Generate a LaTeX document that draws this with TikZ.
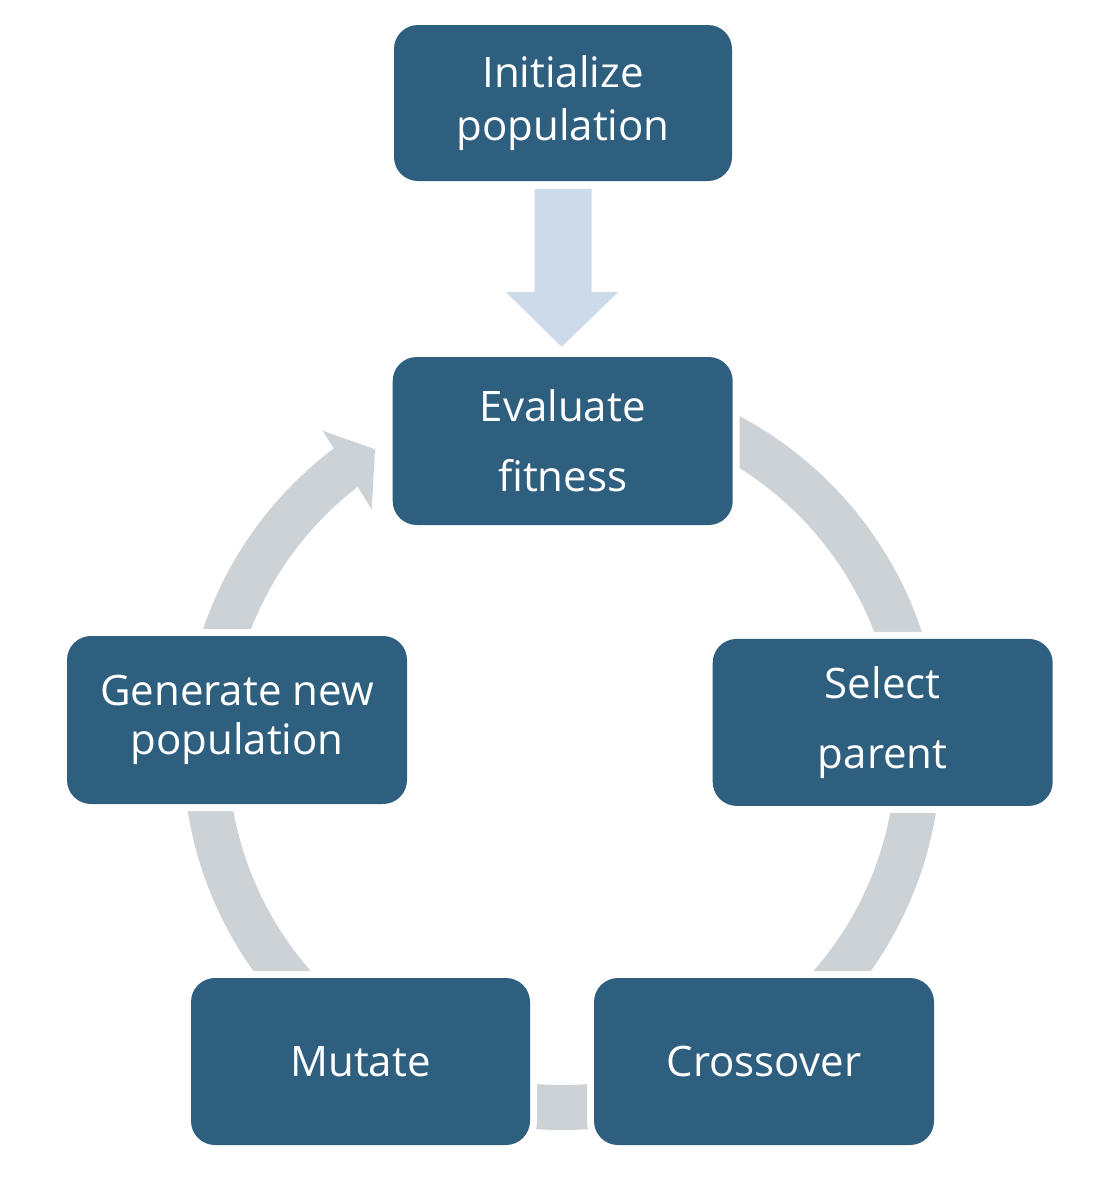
\documentclass[tikz,border=0pt]{standalone}
\usepackage{fontspec}
\setmainfont{Open Sans}
\usetikzlibrary{calc}
\definecolor{boxblue}{HTML}{2F5F7F}
\definecolor{ringgray}{HTML}{CDD2D7}
\definecolor{arrowblue}{HTML}{CDDAEA}
\begin{document}
\begin{tikzpicture}[x=1pt,y=1pt,
  stepbox/.style={rectangle, rounded corners=24pt, fill=boxblue, text=white,
    minimum width=340pt, minimum height=167pt, inner sep=0pt, align=center,
    preaction={draw=white, line width=14pt}},
  ring/.style={draw=ringgray, line width=45pt},
  headfill/.style={fill=ringgray},
  downarrow/.style={fill=arrowblue}]
\useasboundingbox (0,0) rectangle (1106,-1186);
% cycle ring
\coordinate (c) at (562,-751);
\draw[ring] ($(c)+(126.5:356.5)$) arc[start angle=126.5, end angle=440, radius=356.5pt];
\coordinate (hb1) at (322.7,-430.7);
\coordinate (htip) at (375,-449.3);
\coordinate (hb2) at (371.7,-509.3);
\fill[headfill] (hb1) -- (htip) -- (hb2) -- cycle;
% boxes
\node[stepbox, minimum width=338pt, minimum height=156pt, font=\fontsize{42}{53}\selectfont] (init) at (563,-103) {Initialize\\population};
\node[stepbox, minimum height=168pt, font=\fontsize{42}{70}\selectfont] (eval) at (562.7,-441) {Evaluate\\fitness};
\node[stepbox, font=\fontsize{42}{70}\selectfont] (sel) at (882.7,-722.4) {Select\\parent};
\node[stepbox, font=\fontsize{42}{49}\selectfont] (cross) at (764,-1061.5) {Crossover};
\node[stepbox, minimum width=339pt, font=\fontsize{42}{49}\selectfont] (mut) at (360.5,-1061.5) {Mutate};
\node[stepbox, minimum height=168pt, font=\fontsize{42}{49}\selectfont] (gen) at (237,-720) {Generate new\\population};
% block arrow from init to eval
\fill[downarrow] ($(init.south)+(-28.5,-8)$) -- ($(init.south)+(28.5,-8)$)
  -- ($(init.south)+(28.5,-111)$) -- ($(init.south)+(55,-111)$)
  -- ($(eval.north)+(-1,10)$)
  -- ($(init.south)+(-57,-111)$) -- ($(init.south)+(-28.5,-111)$) -- cycle;
\end{tikzpicture}
\end{document}
